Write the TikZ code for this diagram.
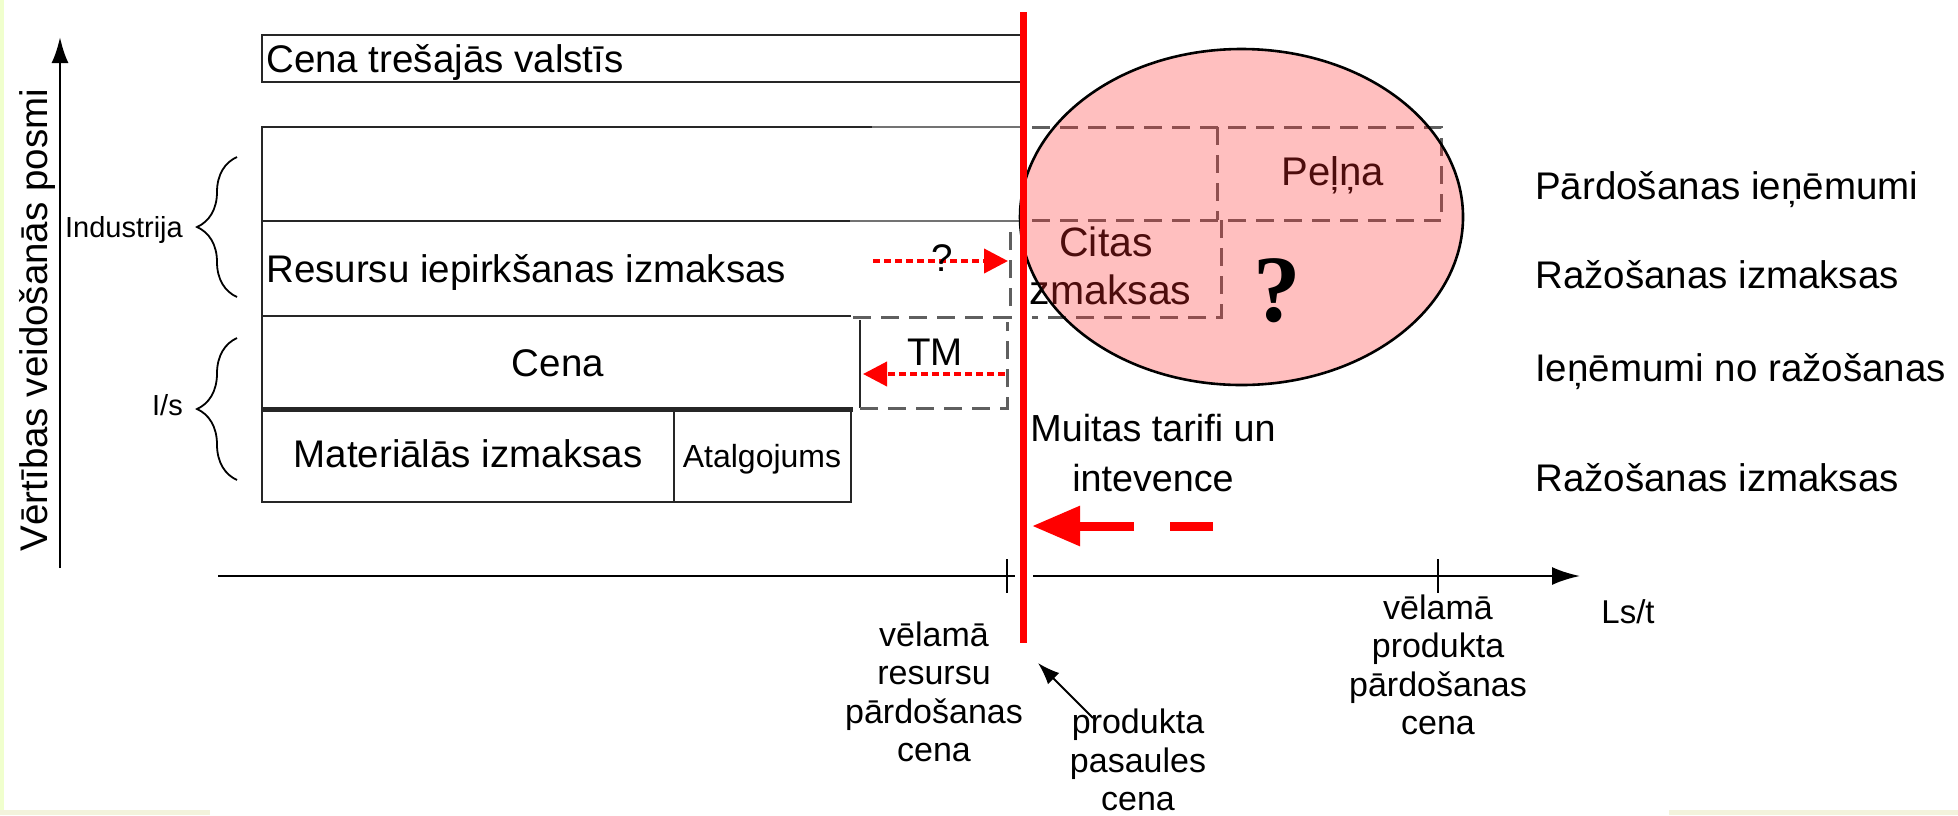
\documentclass[tikz,border=0pt]{standalone}
\usepackage{fontspec}
\setmainfont{Liberation Sans}
\newfontfamily\qfont{Liberation Serif}
\usetikzlibrary{arrows.meta,shapes.geometric,decorations.pathreplacing,positioning}

\definecolor{edgegreen}{RGB}{240,255,205}
\definecolor{stripbeige}{RGB}{243,243,220}
\definecolor{dashgrey}{RGB}{95,95,95}
\definecolor{bubblepink}{RGB}{255,45,45}
\newcommand{\fsize}[2]{\fontsize{#1pt}{#2pt}\selectfont}

\begin{document}
\begin{tikzpicture}[x=1pt,y=-1pt,
  box/.style={draw=black!85,line width=2.4pt},
  lbl/.style={inner sep=0pt,font=\fsize{38.5}{46}},
  sml/.style={inner sep=0pt,font=\fsize{34}{38.5},align=center},
  dsh/.style={draw=dashgrey,line width=3pt,dash pattern=on 18pt off 10pt},
  reddot/.style={red,line width=4pt,dash pattern=on 7pt off 4pt,-{Triangle[length=24pt,width=24pt]}},
  brc/.style={line width=1.8pt,decorate,decoration={brace,amplitude=40pt}}]
\fill[white] (0,0) rectangle (1958,815);
\useasboundingbox (0,0) rectangle (1958,815);
\fill[edgegreen] (0,0) rectangle (4,815);
\fill[stripbeige] (0,810) rectangle (210,815);
\fill[stripbeige] (1669,810) rectangle (1958,815);

% axes
\coordinate (yb) at (60,568);
\coordinate (yt) at (60,37);
\coordinate (xl) at (218,576);
\coordinate (xr) at (1580,576);
\coordinate (tk1) at (1007,576);
\coordinate (tk2) at (1438,576);
\draw[line width=2.6pt,-{Latex[length=26pt,width=17pt]}] (yb) -- (yt);
\draw[line width=2.6pt,-{Latex[length=28pt,width=18pt]}] (xl) -- (xr);
\foreach \t in {tk1,tk2} {
\draw[line width=2.2pt] (\t) ++(0,-17) -- ++(0,34);
}
\draw[white,line width=18pt] (1024,568) -- (1024,584);

% table on the left
\draw[box] (262,35) rectangle (1022,82);
\draw[box] (872,127) -- (262,127) -- (262,502) -- (851,502) -- (851,409);
\draw[box,draw=black!55] (872,127) -- (1022,127);
\draw[box] (262,221) -- (850,221);
\draw[box,draw=black!55] (850,221) -- (1022,221);
\draw[box] (262,316) -- (851,316);
\draw[box,line width=5pt] (262,409) -- (853,409);
\draw[box] (674,409) -- (674,502);
\draw[box] (860,320) -- (860,408);
\draw[dsh] (853,317) -- (1010,317) -- (1010,225);
\draw[dsh] (860,408) -- (1007,408) -- (1007,322);

\node[lbl,anchor=base west] (cts) at (266,72) {Cena trešajās valstīs};
\node[lbl,anchor=base west] (rii) at (266,282) {Resursu iepirkšanas izmaksas};
\node[lbl,anchor=base] (cena) at (558,376) {Cena};
\node[lbl,anchor=base] (mat) at (468,467) {Materiālās izmaksas};
\node[inner sep=0pt,font=\fsize{32}{38},anchor=base] (atg) at (762,467) {Atalgojums};

\coordinate (qa) at (873,261);
\coordinate (qb) at (1008,261);
\coordinate (ta) at (1005,374);
\coordinate (tb) at (863,374);
\draw[reddot] (qa) -- (qb);
\draw[reddot] (ta) -- (tb);
\node[lbl,anchor=base] (qm) at (942,271) {?};
\node[lbl,anchor=base] (tm) at (935,365) {TM};

% braces and axis titles
\draw[brc] (237,297) -- (237,157);
\draw[brc] (237,480) -- (237,338);
\node[inner sep=0pt,font=\fsize{29}{34},anchor=base east] (ind) at (183,237) {Industrija};
\node[inner sep=0pt,font=\fsize{29}{34},anchor=base east] (ls) at (183,415) {I/s};
\node[lbl,rotate=90,anchor=base] (ylab) at (47,320) {Vērtības veidošanās posmi};

% right labels
\foreach \n/\y/\t in {p1/199/Pārdošanas ieņēmumi,p2/288/Ražošanas izmaksas,p3/381/Ieņēmumi no ražošanas,p4/491/Ražošanas izmaksas} {
\node[lbl,anchor=base west] (\n) at (1535,\y) {\t};
}

% bubble
\draw[dsh] (1032,127) -- (1441,127) -- (1441,220);
\draw[dsh] (1032,220) -- (1441,220);
\draw[dsh] (1217,127) -- (1217,220);
\draw[dsh] (1221,220) -- (1221,317) -- (1032,317);
\node[inner sep=0pt,font=\fsize{40}{48},anchor=base] (pel) at (1333,185) {Peļņa};
\node[inner sep=0pt,font=\fsize{41}{48},align=center] (cit) at (1106,266) {Citas\\izmaksas};
\node[ellipse,draw=black,line width=2.6pt,fill=bubblepink,fill opacity=0.3,draw opacity=1,
  minimum width=443pt,minimum height=336pt,inner sep=0pt] (bub) at (1241.5,217) {};
\node[inner sep=0pt,font=\qfont\bfseries\fsize{95}{100},anchor=base] (bq) at (1277,321) {?};

\node[lbl,font=\fsize{37.7}{50},align=center] (mt) at (1153,453) {Muitas tarifi un\\intevence};
\coordinate (ma) at (1213,526);
\coordinate (mb) at (1032,526);
\draw[red,line width=9pt,dash pattern=on 43pt off 36pt on 200pt off 0pt,
  -{Triangle[length=48pt,width=38pt]}] (ma) -- (mb);

% labels under the axis
\node[sml] (vr) at (934,692) {vēlamā\\resursu\\pārdošanas\\cena};
\node[sml] (pp) at (1138,760) {produkta\\pasaules\\cena};
\node[sml] (vp) at (1438,665) {vēlamā\\produkta\\pārdošanas\\cena};
\node[inner sep=0pt,font=\fsize{33}{38},anchor=base] (lst) at (1628,623) {Ls/t};

\coordinate (rt) at (1023.5,12);
\coordinate (rb) at (1023.5,643);
\draw[red,line width=7pt] (rt) -- (rb);
\coordinate (pl) at (1093,718);
\coordinate (pw) at (1038,663);
\draw[line width=2pt,-{Latex[length=22pt,width=16pt]}] (pl) -- (pw);
\end{tikzpicture}
\end{document}
